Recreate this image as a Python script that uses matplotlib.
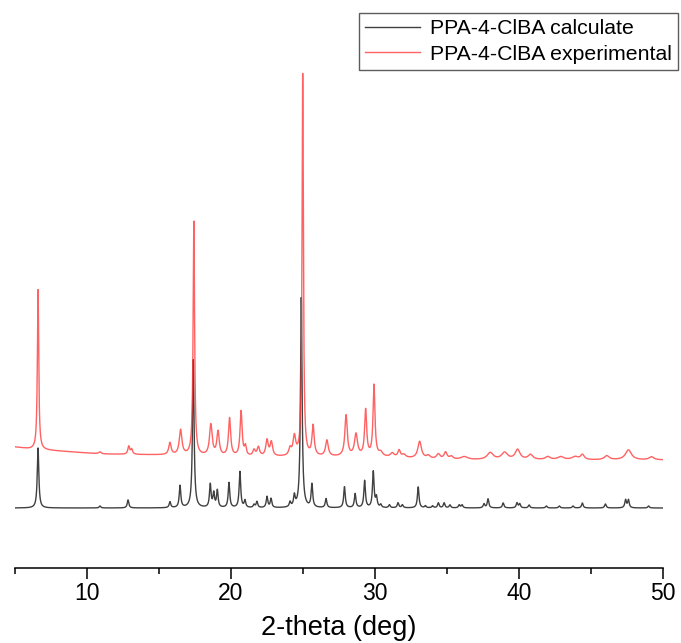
"""
PXRD pattern : PPA-4-ClBA
- calculated pattern (from single crystal)
- experimental pattern (offset above)
"""

import numpy as np
from matplotlib import pyplot as plt


# calculated peaks : 2-theta, intensity (a.u.)
calcPos = [6.6, 10.9, 12.85, 15.76, 16.46, 17.38, 18.56, 18.8, 19.05, 19.86,
           20.62, 20.97, 21.6, 21.8, 22.5, 22.78, 24.1, 24.4, 24.88, 25.62,
           26.6, 27.88, 28.62, 29.28, 29.88, 30.1, 30.4, 31.0, 31.6, 31.9,
           33.0, 33.5, 34.0, 34.4, 34.8, 35.2, 35.85, 36.05, 37.57, 37.85,
           38.9, 39.86, 40.05, 40.7, 41.9, 42.8, 43.75, 44.4, 46.0, 47.4,
           47.6, 49.0]
calcInt = [60, 2, 8, 6, 22, 148, 23, 14, 17, 25,
           36, 7, 3, 6, 11, 9, 5, 11, 210, 23,
           9, 21, 14, 27, 36, 10, 3, 3, 5, 3,
           21, 2, 2, 5, 5, 3, 3, 3, 4, 9,
           5, 5, 4, 3, 2, 2, 2, 5, 4, 8,
           8, 2]

# experimental peaks : 2-theta, intensity, FWHM
expPos = [6.6, 10.9, 12.9, 13.1, 15.76, 16.5, 17.42, 18.6, 19.1, 19.9,
          20.7, 21.0, 21.6, 21.9, 22.5, 22.8, 24.1, 24.4, 24.98, 25.7,
          26.66, 27.99, 28.68, 29.35, 29.93, 30.4, 31.2, 31.67, 32.0, 33.1,
          33.7, 34.4, 34.9, 35.3, 36.2, 38.0, 39.0, 39.9, 40.8, 42.0,
          42.9, 43.9, 44.4, 46.1, 47.6, 49.2]
expInt = [160, 2, 8, 5, 12, 25, 234, 31, 24, 38,
          45, 9, 6, 9, 16, 14, 7, 19, 382, 30,
          16, 41, 22, 46, 71, 4, 4, 7, 3, 17,
          3, 5, 7, 3, 3, 7, 7, 10, 5, 3,
          3, 3, 5, 4, 10, 3]
expFwhm = [0.11, 0.2, 0.15, 0.15, 0.2, 0.22, 0.12, 0.22, 0.2, 0.18,
           0.17, 0.15, 0.2, 0.2, 0.2, 0.2, 0.2, 0.22, 0.11, 0.18,
           0.22, 0.2, 0.25, 0.17, 0.16, 0.3, 0.3, 0.2, 0.3, 0.3,
           0.3, 0.3, 0.25, 0.3, 0.6, 0.5, 0.5, 0.4, 0.4, 0.4,
           0.5, 0.5, 0.3, 0.4, 0.5, 0.4]

# experimental background (incl. stacking offset)
bgPos = [5, 6, 8, 11, 15, 20, 25, 30, 35, 40, 45, 50]
bgInt = [61, 59, 57, 54, 53, 51, 51, 51, 48, 48, 48, 48]

calcFwhm = 0.13


def profile(x, pos, inten, fwhm):
    # sum of lorentzian peaks
    y = np.zeros_like(x)
    for p, h, w in zip(pos, inten, fwhm):
        g = w / 2
        y += h * g**2 / ((x - p)**2 + g**2)
    return y


def drawGraph(x, calcY, expY):
    fig = plt.figure(figsize=(6.81, 6.43), dpi=100)
    ax = fig.add_axes([15 / 681, 75 / 643, 648 / 681, 563 / 643])

    ax.plot(x, calcY, color='#404040', lw=1.0, label='PPA-4-ClBA calculate')
    ax.plot(x, expY, color='#ff3b3b', lw=1.0, alpha=0.8, label='PPA-4-ClBA experimental')

    ax.set_xlim(5, 50)
    ax.set_ylim(-60, 503)
    ax.set_xticks([10, 20, 30, 40, 50])
    ax.set_xticks([5, 15, 25, 35, 45], minor=True)
    ax.tick_params(axis='x', which='major', direction='out', length=8, width=1.1,
                   pad=2, labelsize=16.5)
    ax.tick_params(axis='x', which='minor', direction='out', length=4, width=1.1)
    ax.set_yticks([])
    for side in ['left', 'right', 'top']:
        ax.spines[side].set_visible(False)
    ax.spines['bottom'].set_linewidth(1.1)
    ax.set_xlabel('2-theta (deg)', fontsize=19.5, labelpad=7)

    leg = ax.legend(loc='upper right', bbox_to_anchor=(678 / 681, 1 - 13 / 643),
                    bbox_transform=fig.transFigure, borderaxespad=0, fontsize=15.3,
                    fancybox=False, edgecolor='#333333', handlelength=2.6,
                    borderpad=0.3, labelspacing=0.3, handletextpad=0.45)
    leg.get_frame().set_linewidth(1.0)

    fig.savefig('out.png', dpi=100)


def main():
    plt.rcParams['font.family'] = ['Liberation Sans', 'DejaVu Sans']
    x = np.linspace(5, 50, 9001)
    calcY = profile(x, calcPos, calcInt, [calcFwhm] * len(calcPos))
    expY = np.interp(x, bgPos, bgInt) + profile(x, expPos, expInt, expFwhm)
    drawGraph(x, calcY, expY)


if __name__ == '__main__':
    main()
